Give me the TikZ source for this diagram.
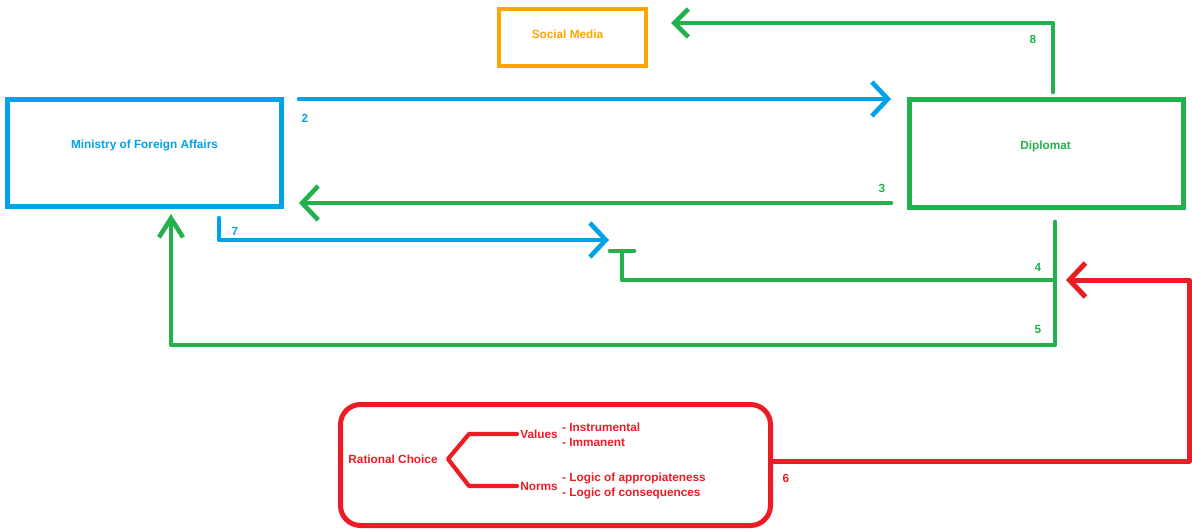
\documentclass[tikz,border=0pt]{standalone}
\usepackage{fontspec}
\setmainfont{Liberation Sans}
\usetikzlibrary{arrows.meta}

\definecolor{mblue}{HTML}{00A2E8}
\definecolor{mgreen}{HTML}{22B14C}
\definecolor{mred}{HTML}{ED1C24}
\definecolor{morange}{HTML}{FFA500}

\tikzset{
  txt/.style={inner sep=0pt, font=\fontsize{11.8}{13}\selectfont\bfseries},
  boxshape/.style={draw, line width=4.6pt, inner sep=0pt},
  wire/.style={line width=4.6pt, line cap=round, line join=round},
  chev/.style={-{Straight Barb[length=16pt,width=34pt]}},
  chevnarrow/.style={-{Straight Barb[length=19pt,width=24pt]}},
  chevsmall/.style={-{Straight Barb[length=14pt,width=28pt]}},
}

\begin{document}
\begin{tikzpicture}[x=1pt, y=-1pt]
\useasboundingbox (0,0) rectangle (1192,531);

% boxes
\node[boxshape, draw=mblue, minimum width=274pt, minimum height=107pt] (mfa) at (144.5,153) {};
\node[txt, text=mblue] (mfat) at (144.5,145) {Ministry of Foreign Affairs};

\node[boxshape, draw=mgreen, minimum width=274pt, minimum height=108pt] (dip) at (1046.5,153.5) {};
\node[txt, text=mgreen] (dipt) at (1045.5,146) {Diplomat};

\node[boxshape, draw=morange, line width=4pt, minimum width=147pt, minimum height=57pt] (sm) at (572.5,37.5) {};
\node[txt, text=morange] (smt) at (567.5,34) {Social Media};

\node[boxshape, draw=mred, line width=5pt, rounded corners=20pt, minimum width=430pt, minimum height=121pt] (rc) at (555.5,465) {};

% contents of the rational choice box
\node[txt, text=mred] (rct) at (393,459) {Rational Choice};
\coordinate (fork) at (448,459);
\coordinate (vend) at (517,434);
\coordinate (nend) at (517,486);
\draw[wire, mred, line width=4.2pt] (vend) -- (469,434) -- (fork) -- (469,486) -- (nend);
\node[txt, text=mred] (val) at (539,434) {Values};
\node[txt, text=mred] (nor) at (539,486) {Norms};
\node[txt, text=mred, anchor=west] (v1) at (562,427) {- Instrumental};
\node[txt, text=mred, anchor=west] (v2) at (562,442) {- Immanent};
\node[txt, text=mred, anchor=west] (n1) at (562,478) {- Logic of appropiateness};
\node[txt, text=mred, anchor=west] (n2) at (562,493) {- Logic of consequences};

% connector ends
\coordinate (c2s) at (299,99);
\coordinate (c2e) at (891,99);
\coordinate (c3s) at (891,203);
\coordinate (c3e) at (299,203);
\coordinate (c8s) at (1053,92);
\coordinate (c8e) at (671,23);
\coordinate (c7s) at (219,218);
\coordinate (c7e) at (609,240);
\coordinate (c45top) at (1055,222);
\coordinate (c45bot) at (1055,345);
\coordinate (c4j) at (1055,280);
\coordinate (c4e) at (622,251);
\coordinate (tbl) at (610,251);
\coordinate (tbr) at (634,251);
\coordinate (c5e) at (171,214);
\coordinate (c6s) at (774,461);
\coordinate (c6e) at (1066,280);

% connectors
\draw[wire, mblue, chev] (c2s) -- (c2e);
\draw[wire, mgreen, chev] (c3s) -- (c3e);
\draw[wire, mgreen, chevsmall] (c8s) |- (c8e);
\draw[wire, mblue, chev] (c7s) |- (c7e);
\draw[wire, mgreen, chevnarrow] (c45top) -- (c45bot) -| (c5e);
\draw[wire, mgreen] (c4j) -| (c4e);
\draw[wire, mgreen] (tbl) -- (tbr);
\draw[wire, mred, line width=5pt, chev] (c6s) -| (1189,280) -- (c6e);

% connector numbers
\node[txt, text=mblue] (l2) at (305,118) {2};
\node[txt, text=mgreen] (l3) at (882,188) {3};
\node[txt, text=mgreen] (l8) at (1033,39) {8};
\node[txt, text=mblue] (l7) at (235,231) {7};
\node[txt, text=mgreen] (l4) at (1038,267) {4};
\node[txt, text=mgreen] (l5) at (1038,329) {5};
\node[txt, text=mred] (l6) at (786,478) {6};
\end{tikzpicture}
\end{document}
